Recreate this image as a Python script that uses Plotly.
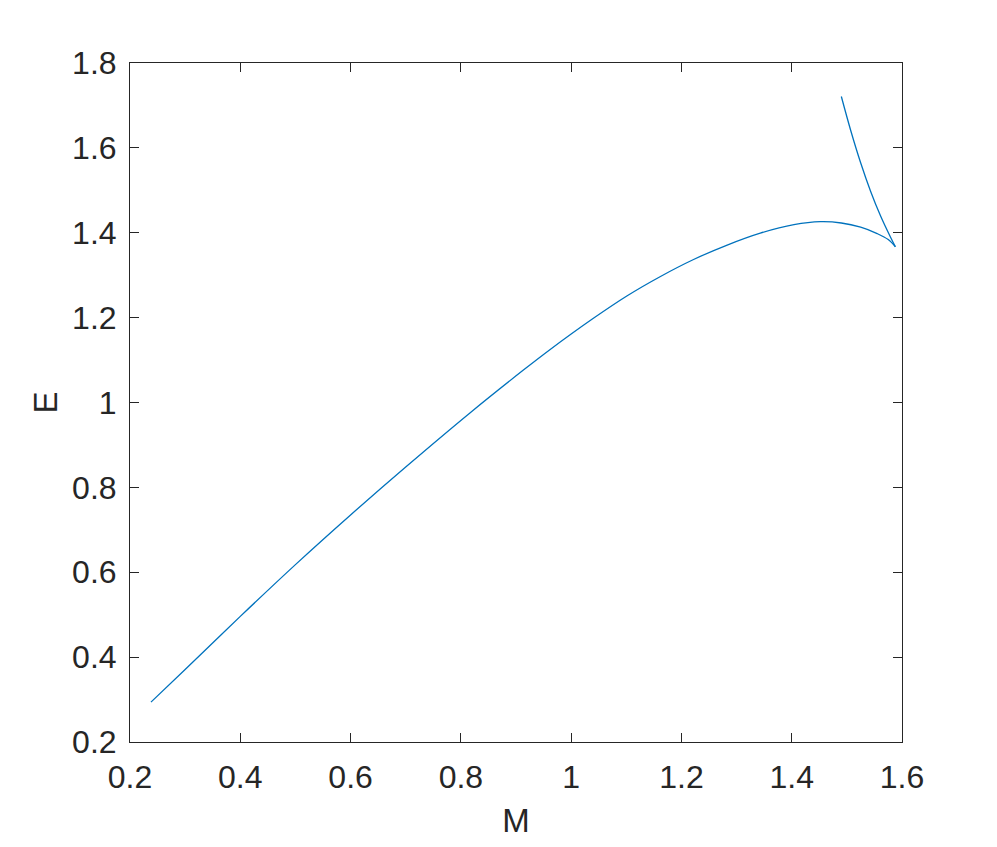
import plotly.graph_objects as go

# lower branch
m_lower = [0.238, 0.30, 0.40, 0.50, 0.60, 0.70, 0.817, 0.914, 0.962,
           1.041, 1.101, 1.162, 1.222, 1.283, 1.343, 1.404, 1.452, 1.490,
           1.525, 1.555, 1.575, 1.588]
e_lower = [0.294, 0.371, 0.496, 0.618, 0.735, 0.848, 0.976, 1.077, 1.125,
           1.199, 1.251, 1.297, 1.337, 1.371, 1.399, 1.419, 1.426, 1.423,
           1.413, 1.398, 1.384, 1.367]

# upper branch, from the cusp upwards
m_upper = [1.588, 1.579, 1.561, 1.543, 1.525, 1.507, 1.490]
e_upper = [1.367, 1.390, 1.440, 1.498, 1.565, 1.641, 1.721]

x_ticks = [0.2, 0.4, 0.6, 0.8, 1.0, 1.2, 1.4, 1.6]
x_labels = ["0.2", "0.4", "0.6", "0.8", "1", "1.2", "1.4", "1.6"]
y_ticks = [0.2, 0.4, 0.6, 0.8, 1.0, 1.2, 1.4, 1.6, 1.8]
y_labels = ["0.2", "0.4", "0.6", "0.8", "1", "1.2", "1.4", "1.6", "1.8"]

line_color = "#0072BD"
axis_color = "#262626"

fig = go.Figure()
fig.add_trace(go.Scatter(x=m_lower, y=e_lower, mode="lines", line_shape="spline",
                         line=dict(color=line_color, width=1.3), showlegend=False))
fig.add_trace(go.Scatter(x=m_upper, y=e_upper, mode="lines", line_shape="spline",
                         line=dict(color=line_color, width=1.3), showlegend=False))

axis_common = dict(
    showgrid=False, zeroline=False, showline=True, mirror="ticks",
    linecolor=axis_color, linewidth=1, ticks="inside", ticklen=9,
    tickcolor=axis_color, tickwidth=1, automargin=False,
    tickfont=dict(size=32, color=axis_color),
)

fig.update_xaxes(range=[0.2, 1.6], tickvals=x_ticks, ticktext=x_labels,
                 title=dict(text="M", font=dict(size=33, color=axis_color), standoff=14),
                 ticklabelstandoff=7, **axis_common)
fig.update_yaxes(range=[0.2, 1.8], tickvals=y_ticks, ticktext=y_labels,
                 title=dict(text="E", font=dict(size=33, color=axis_color), standoff=4),
                 ticklabelstandoff=6, **axis_common)

# page body adds 8px, so the figure is a bit smaller than the window
fig.update_layout(
    width=989, height=839,
    margin=dict(l=122, r=95, t=55, b=105),
    plot_bgcolor="white", paper_bgcolor="white",
    font=dict(family="Liberation Sans, Arial, sans-serif", color=axis_color),
)

fig.write_html("out.html")
